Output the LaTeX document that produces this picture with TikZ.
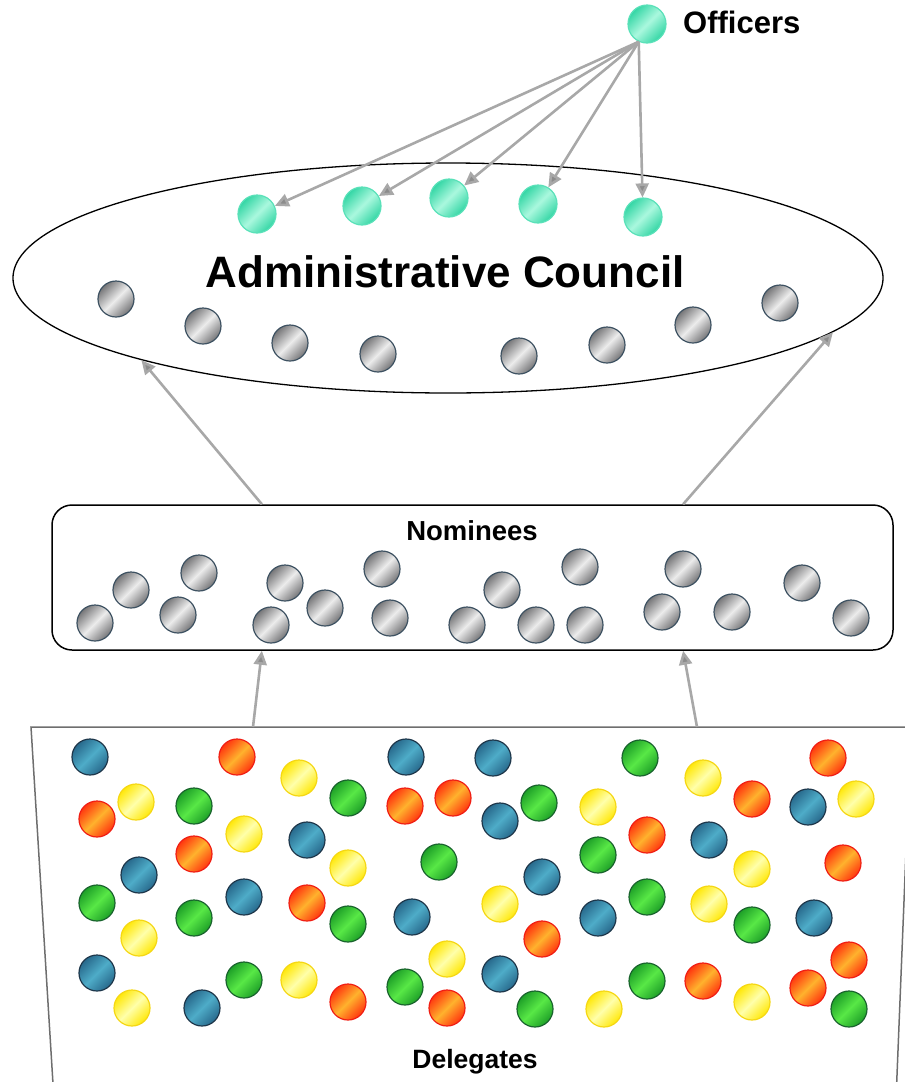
\documentclass[tikz,border=0pt]{standalone}
\usepackage{fontspec}
\setmainfont{Liberation Sans}
\usetikzlibrary{shapes.geometric,arrows.meta,calc}

\definecolor{tealDark}{RGB}{52,214,165}
\definecolor{tealLight}{RGB}{170,248,222}
\definecolor{tealRim}{RGB}{90,225,185}
\definecolor{greyDark}{RGB}{118,118,120}
\definecolor{greyLight}{RGB}{236,236,236}
\definecolor{greyRim}{RGB}{62,82,98}
\definecolor{blueDark}{RGB}{40,105,140}
\definecolor{blueLight}{RGB}{78,172,200}
\definecolor{blueRim}{RGB}{30,55,75}
\definecolor{greenDark}{RGB}{30,160,40}
\definecolor{greenLight}{RGB}{88,232,70}
\definecolor{greenRim}{RGB}{25,100,45}
\definecolor{orangeDark}{RGB}{255,55,15}
\definecolor{orangeLight}{RGB}{255,178,45}
\definecolor{orangeRim}{RGB}{240,30,20}
\definecolor{yellowDark}{RGB}{255,232,10}
\definecolor{yellowLight}{RGB}{255,255,170}
\definecolor{yellowRim}{RGB}{245,215,20}
\definecolor{arrowGrey}{RGB}{168,168,168}
\definecolor{tipGrey}{RGB}{140,140,140}
\definecolor{boxGrey}{RGB}{110,110,110}

\begin{document}
\begin{tikzpicture}[x=1pt, y=-1pt, every node/.style={font=\bfseries},
    bead/.style={circle, inner sep=0pt, minimum size=36pt, line width=1.2pt,
        draw=#1Rim, top color=#1Dark, bottom color=#1Dark, middle color=#1Light, shading angle=45},
    link/.style={draw=arrowGrey, line width=2.6pt, -{Triangle[length=14pt,width=13pt,fill=tipGrey]}}]
    \clip (0,0) rectangle (905,1082);

    % Three levels
    \node[draw, ellipse, line width=1.3pt, inner sep=0pt, minimum width=870pt, minimum height=230pt] (council) at (448,278) {};
    \node[draw, rectangle, rounded corners=20pt, line width=1.5pt, inner sep=0pt, minimum width=841pt, minimum height=145pt] (nominees) at (472.5,577.5) {};
    \draw[boxGrey, line width=1.5pt] (54,1100) -- (31,727) -- (911,727) -- (896,1100);
    \coordinate (delL) at (253,727);
    \coordinate (delR) at (697,727);

    % Labels
    \node[anchor=base, font=\bfseries\fontsize{44}{50}\selectfont] (councilname) at (445,287) {Administrative Council};
    \node[anchor=base west, inner sep=0pt, font=\bfseries\fontsize{31}{36}\selectfont] (offname) at (683,33) {Officers};
    \node[anchor=base, font=\bfseries\fontsize{27.5}{32}\selectfont] (nomname) at (472,540) {Nominees};
    \node[anchor=base, font=\bfseries\fontsize{26.5}{32}\selectfont] (delname) at (475,1068) {Delegates};

    % Officers
    \node[bead=teal, minimum size=38pt] (off) at (647,24) {};
    \foreach \x/\y [count=\i] in {257/214, 362/206, 449/198, 538/204, 643/217}
        \node[bead=teal, minimum size=38pt] (c\i) at (\x,\y) {};

    % Council members
    \foreach \x/\y [count=\i] in {116/299, 203/326, 290/343, 378/354, 519/356, 607/345, 693/325, 780/303}
        \node[bead=grey] (m\i) at (\x,\y) {};

    % Nominees
    \foreach \x/\y [count=\i] in {95/623, 131/590, 199/573, 178/615, 285/583, 271/625, 325/608,
        382/569, 390/618, 467/625, 502/590, 580/567, 536/625, 585/625, 683/569, 662/612,
        732/612, 802/583, 851/618}
        \node[bead=grey] (n\i) at (\x,\y) {};

    % Delegates
    \foreach \x/\y/\c [count=\i] in {90/757/blue, 237/757/orange, 299/778/yellow, 406/757/blue,
        97/819/orange, 136/802/yellow, 194/806/green, 348/798/green, 405/806/orange, 453/798/orange,
        244/834/yellow, 194/854/orange, 307/840/blue, 348/868/yellow, 439/862/green, 139/875/blue,
        97/903/green, 244/897/blue, 307/903/orange, 194/918/green, 348/924/green, 412/917/blue,
        139/938/yellow, 97/973/blue, 132/1008/yellow, 202/1008/blue, 244/980/green, 299/980/yellow,
        348/1002/orange, 405/987/green, 447/959/yellow, 447/1008/orange,
        493/758/blue, 500/821/blue, 539/803/green, 598/807/yellow, 640/758/green, 703/778/yellow,
        752/799/orange, 808/807/blue, 856/799/yellow, 828/758/orange, 647/835/orange, 598/855/green,
        709/840/blue, 752/869/yellow, 843/863/orange, 542/877/blue, 500/904/yellow, 647/897/green,
        709/904/yellow, 598/918/blue, 542/939/orange, 752/925/green, 814/918/blue, 849/960/orange,
        500/974/blue, 535/1009/green, 604/1009/yellow, 647/981/green, 703/981/orange, 752/1002/yellow,
        808/988/orange, 849/1009/green}
        \node[bead=\c] (d\i) at (\x,\y) {};

    % Arrows
    \coordinate (offfoot) at (off.-115);
    \foreach \i in {1,...,5}
        \draw[link] (offfoot) -- (c\i);
    \draw[link] ($(nominees.north west)!0.25!(nominees.north east)$) -- (council.195);
    \draw[link] ($(nominees.north west)!0.75!(nominees.north east)$) -- (council.-8);
    \draw[link] (delL) -- ($(nominees.south west)!0.25!(nominees.south east)$);
    \draw[link] (delR) -- ($(nominees.south west)!0.75!(nominees.south east)$);
\end{tikzpicture}
\end{document}
